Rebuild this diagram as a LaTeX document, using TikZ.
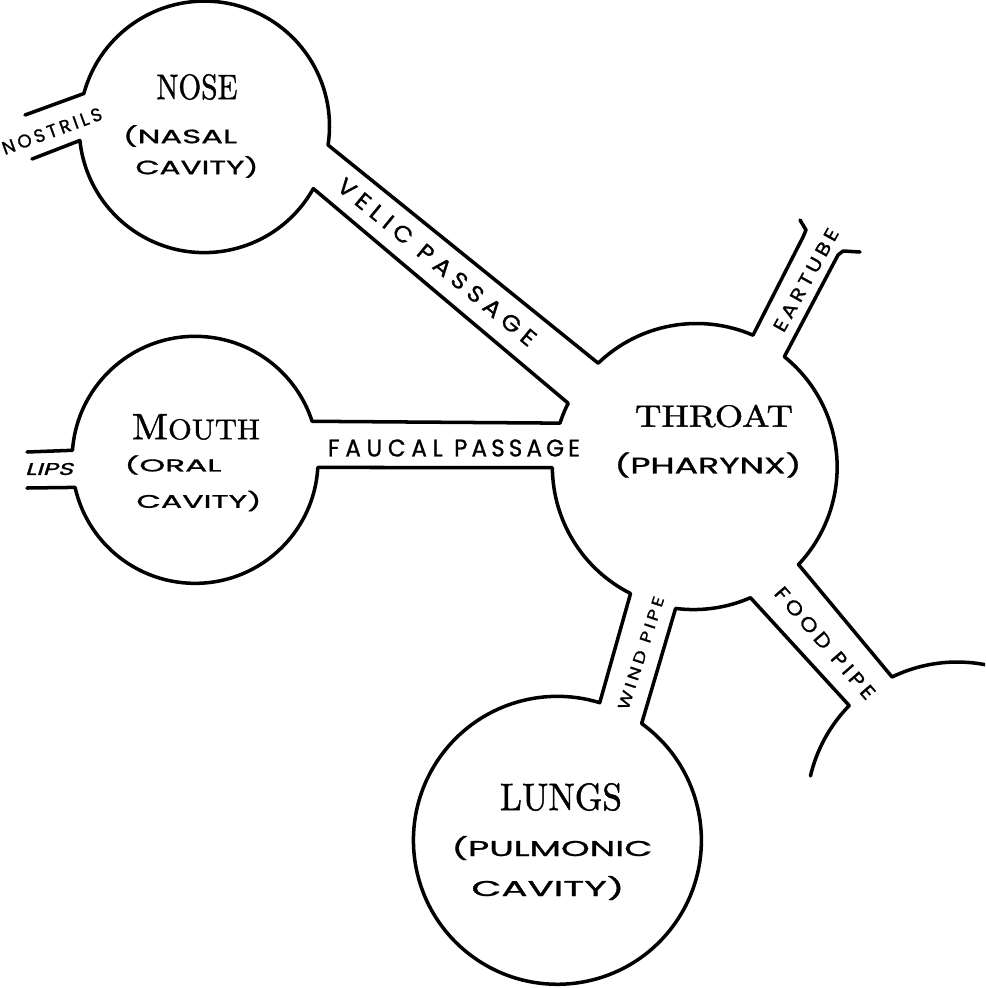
\documentclass[tikz,border=0pt]{standalone}
\usepackage{fontspec}
\usepackage{graphicx}
\newfontfamily\hand[FakeBold=1]{Poppins}
\newfontfamily\handwide[FakeBold=1,LetterSpace=18]{Poppins}
\newfontfamily\handsp[FakeBold=1,LetterSpace=25]{Poppins}
\newfontfamily\handsl[FakeBold=1,FakeSlant=0.2]{Poppins}
\newfontfamily\titlefont[FakeBold=1.2]{Latin Modern Roman}
\begin{document}
\begin{tikzpicture}[x=0.02cm, y=0.02cm, line width=2pt, line join=round, line cap=round,
  cav/.style={circle, inner sep=0pt, outer sep=0pt},
  lbl/.style={inner sep=0pt, outer sep=0pt}]
\useasboundingbox (0,0) rectangle (985,-988);
\fill[white] (0,0) rectangle (985,-988);
\clip (0,0) rectangle (985,-988);

% cavities
\node[cav, minimum size=5cm]    (nose)    at (204,-128) {};
\node[cav, minimum size=4.92cm] (mouth)   at (195,-461) {};
\node[cav, minimum size=5.68cm] (throat)  at (695,-467) {};
\node[cav, minimum size=5.76cm] (lungs)   at (557,-840) {};
\node[cav, minimum size=5.96cm] (stomach) at (955,-812) {};

% free ends of the tubes
\coordinate (nosU) at (25,-115);
\coordinate (nosL) at (32,-159);
\coordinate (lipU) at (27,-452);
\coordinate (lipL) at (27,-488);
\coordinate (earL)  at (803,-237);
\coordinate (earH1) at (806,-230);
\coordinate (earH2) at (800,-220);
\coordinate (earR)  at (838,-255);
\coordinate (earR1) at (843,-251);
\coordinate (earR2) at (860,-252);

% outlines
\draw (nosU) -- (nose.164.9) arc[start angle=164.9, end angle=-8.7, radius=2.5cm]
  -- (throat.133.9) arc[start angle=133.9, end angle=66.6, radius=2.84cm]
  -- (earL) -- (earH1) -- (earH2);
\draw (earR2) -- (earR1) -- (earR) -- (throat.51.1) arc[start angle=51.1, end angle=-43.3, radius=2.84cm]
  -- (stomach.115.9) arc[start angle=115.9, end angle=70, radius=2.98cm];
\draw (stomach.166.8) arc[start angle=166.8, end angle=135.5, radius=2.98cm]
  -- (throat.293.6) arc[start angle=293.6, end angle=262.7, radius=2.84cm]
  -- (lungs.54.2) arc[start angle=54.2, end angle=-287.1, radius=2.88cm]
  -- (throat.243.3) arc[start angle=243.3, end angle=180.4, radius=2.84cm]
  -- (mouth.-3.3) arc[start angle=-3.3, end angle=-167.3, radius=2.46cm]
  -- (lipL);
\draw (lipU) -- (mouth.175.8) arc[start angle=175.8, end angle=18, radius=2.46cm]
  -- (throat.162) arc[start angle=162, end angle=153.3, radius=2.84cm]
  -- (nose.-29.2) arc[start angle=-29.2, end angle=-174.1, radius=2.5cm]
  -- (nosL);

% labels
\node[lbl] (tNose)  at (197,-87)  {\resizebox{1.62cm}{0.5cm}{\titlefont NOSE}};
\node[lbl] (tNas1)  at (180,-136) {\resizebox{2.28cm}{0.36cm}{\hand (NASAL}};
\node[lbl] (tNas2)  at (197,-167) {\resizebox{2.46cm}{0.36cm}{\hand CAVITY)}};
\node[lbl, rotate=20] (tNostr) at (52,-131) {\resizebox{2.1cm}{0.26cm}{\handwide NOSTRILS}};
\node[lbl, rotate=-39.5] (tVelic) at (437,-262) {\resizebox{5.0cm}{0.32cm}{\handsp VELIC PASSAGE}};
\node[lbl] (tFauc) at (454,-448) {\resizebox{5.04cm}{0.34cm}{\handsp FAUCAL\hspace{0.5em}\handwide PASSAGE}};
\node[lbl] (tMouth) at (196,-427) {\resizebox{2.56cm}{0.5cm}{\titlefont M\scalebox{0.78}{OUTH}}};
\node[lbl] (tOr1)  at (173,-465) {\resizebox{1.94cm}{0.32cm}{\hand (ORAL}};
\node[lbl] (tOr2)  at (199,-501) {\resizebox{2.5cm}{0.34cm}{\hand CAVITY)}};
\node[lbl] (tLips) at (49,-469)  {\resizebox{0.96cm}{0.24cm}{\handsl LIPS}};
\node[lbl] (tThroat) at (714,-416) {\resizebox{3.16cm}{0.44cm}{\titlefont THROAT}};
\node[lbl] (tPhar) at (708,-465) {\resizebox{3.74cm}{0.42cm}{\hand (PHARYNX)}};
\node[lbl, rotate=61] (tEar) at (806,-280) {\resizebox{2.3cm}{0.26cm}{\handwide EARTUBE}};
\node[lbl, rotate=72] (tWind) at (641,-653) {\resizebox{2.36cm}{0.22cm}{\handwide WIND PIPE}};
\node[lbl, rotate=-49] (tFood) at (825,-643) {\resizebox{2.84cm}{0.28cm}{\handwide FOOD PIPE}};
\node[lbl] (tLungs) at (561,-797) {\resizebox{2.44cm}{0.54cm}{\titlefont LUNGS}};
\node[lbl] (tPul1) at (552,-848) {\resizebox{4.02cm}{0.4cm}{\hand (PULMONIC}};
\node[lbl] (tPul2) at (548,-888) {\resizebox{3.06cm}{0.4cm}{\hand CAVITY)}};
\end{tikzpicture}
\end{document}
